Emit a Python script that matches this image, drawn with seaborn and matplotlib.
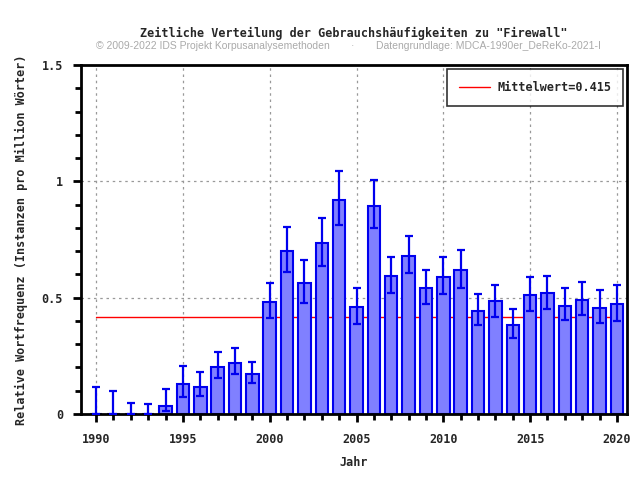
import numpy as np
import pandas as pd
import matplotlib
matplotlib.use("Agg")
import matplotlib.pyplot as plt
from matplotlib.ticker import MultipleLocator
import seaborn as sns

# Jahre und relative Häufigkeiten
years = list(range(1990, 2021))
freq = [0.0, 0.0, 0.0, 0.0, 0.036, 0.128, 0.117, 0.203, 0.221, 0.173,
        0.483, 0.702, 0.564, 0.736, 0.921, 0.461, 0.895, 0.594, 0.680, 0.543,
        0.590, 0.620, 0.444, 0.484, 0.384, 0.513, 0.521, 0.466, 0.491, 0.457,
        0.474]
err_low = [0.0, 0.0, 0.0, 0.0, 0.014, 0.074, 0.079, 0.156, 0.173, 0.135,
           0.414, 0.610, 0.477, 0.636, 0.814, 0.388, 0.801, 0.520, 0.606, 0.473,
           0.516, 0.543, 0.382, 0.417, 0.328, 0.444, 0.451, 0.405, 0.427, 0.392,
           0.401]
err_high = [0.117, 0.099, 0.049, 0.044, 0.107, 0.208, 0.182, 0.266, 0.285, 0.223,
            0.564, 0.804, 0.663, 0.844, 1.044, 0.543, 1.006, 0.675, 0.765, 0.620,
            0.676, 0.705, 0.517, 0.554, 0.451, 0.589, 0.593, 0.541, 0.567, 0.533,
            0.554]
mean_value = 0.415

df = pd.DataFrame({"Jahr": years, "freq": freq})

sns.set_style("white")
mono = "DejaVu Sans Mono"

fig = plt.figure(figsize=(6.4, 4.8), dpi=100)
ax = fig.add_axes([81 / 640, 66 / 480, 546 / 640, 349 / 480])

# Mittelwert-Linie hinter den Balken
ax.plot([years[0], years[-1]], [mean_value, mean_value], color="#ff0000", lw=1,
        zorder=1, label="Mittelwert=0.415")

sns.barplot(data=df, x="Jahr", y="freq", native_scale=True, width=0.72,
            color="#8080ff", saturation=1, edgecolor="#0000ee", linewidth=1.5,
            errorbar=None, ax=ax, zorder=2)

f = np.array(freq)
yerr = [f - np.array(err_low), np.array(err_high) - f]
ax.errorbar(years, freq, yerr=yerr, fmt="none", ecolor="#0000ee", elinewidth=1.6,
            capsize=3.2, capthick=1.6, zorder=3)

ax.set_xlim(1989.13, 2020.58)
ax.set_ylim(0, 1.5)
ax.xaxis.set_major_locator(MultipleLocator(5))
ax.xaxis.set_minor_locator(MultipleLocator(1))
ax.yaxis.set_major_locator(MultipleLocator(0.5))
ax.yaxis.set_minor_locator(MultipleLocator(0.1))
ax.set_yticks([0, 0.5, 1, 1.5])
ax.set_yticklabels(["0", "0.5", "1", "1.5"])
ax.grid(True, which="major", color="#999999", linestyle=(0, (2, 3)), lw=0.9)
ax.set_axisbelow(True)

ax.tick_params(axis="x", which="major", pad=8)
ax.tick_params(axis="y", which="major", pad=7)
ax.tick_params(which="major", direction="out", length=6, width=2, color="black",
               labelsize=8.5, bottom=True, left=True)
ax.tick_params(which="minor", direction="out", length=4, width=2, color="black",
               bottom=True, left=True)
for lab in ax.get_xticklabels() + ax.get_yticklabels():
    lab.set_fontfamily(mono)
    lab.set_fontweight("bold")

for sp in ax.spines.values():
    sp.set_color("black")
    sp.set_linewidth(2.0)

ax.set_xlabel("Jahr", fontfamily=mono, fontweight="bold", fontsize=8.5, labelpad=7)
ax.set_ylabel("Relative Wortfrequenz (Instanzen pro Million Wörter)", fontfamily=mono,
              fontweight="bold", fontsize=8.5, labelpad=10)

leg = ax.legend(loc="upper right", frameon=True, fancybox=False, handlelength=2.6,
                handletextpad=0.6, borderpad=1.05,
                prop={"family": mono, "weight": "bold", "size": 8.5},
                borderaxespad=0.3)
leg.get_frame().set_edgecolor("black")
leg.get_frame().set_linewidth(1.2)

fig.text(354 / 640, 1 - 33 / 480, 'Zeitliche Verteilung der Gebrauchshäufigkeiten zu "Firewall"',
         ha="center", va="center", fontfamily=mono, fontweight="bold", fontsize=8.5)
fig.text(96 / 640, 1 - 46 / 480, "© 2009-2022 IDS Projekt Korpusanalysemethoden",
         ha="left", va="center", color="#aaaaaa", fontsize=7.5, fontfamily="Liberation Sans")
fig.text(353 / 640, 1 - 46 / 480, "·", ha="center", va="center", color="#aaaaaa",
         fontsize=7.5, fontfamily="Liberation Sans")
fig.text(376 / 640, 1 - 46 / 480, "Datengrundlage: MDCA-1990er_DeReKo-2021-I",
         ha="left", va="center", color="#aaaaaa", fontsize=7.5, fontfamily="Liberation Sans")

fig.savefig("out.png", dpi=100)
